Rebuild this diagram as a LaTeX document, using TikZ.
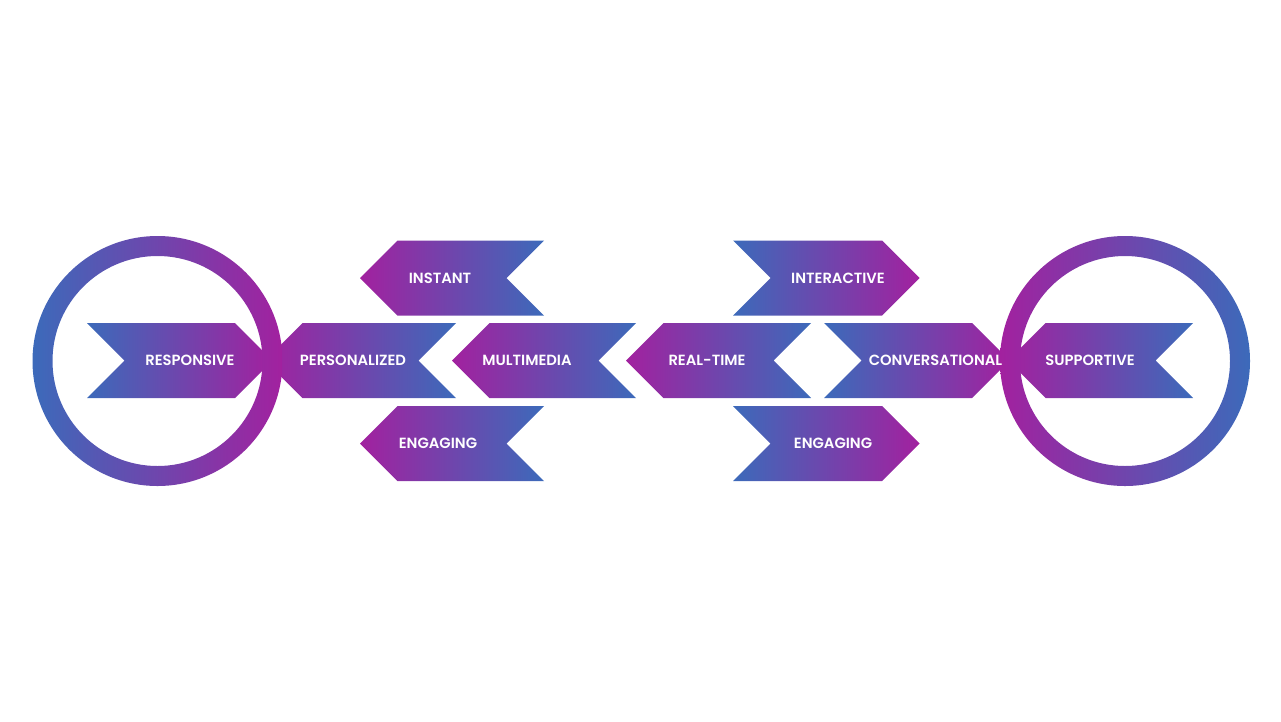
\documentclass[tikz,border=0pt]{standalone}
\usepackage{fontspec}
\setmainfont{Poppins}[BoldFont={Poppins SemiBold}]
\usetikzlibrary{calc}

\definecolor{ribbonblue}{HTML}{3C6ABA}
\definecolor{ribbonmid}{HTML}{6A3AA0}
\definecolor{ribbonpink}{HTML}{A2219F}

\begin{document}
\begin{tikzpicture}[x=0.02cm, y=-0.02cm,
    tolft/.style={left color=ribbonpink, middle color=ribbonmid, right color=ribbonblue},
    torgt/.style={left color=ribbonblue, middle color=ribbonmid, right color=ribbonpink},
    lbl/.style={text=white, inner sep=0pt, font=\fontsize{8.4}{10}\selectfont\bfseries}]
  \useasboundingbox (0,0) rectangle (1281,721);

  % ribbons pointing left: tip x, top right x, mid y
  \foreach \xl/\xr/\ym in {265/456/360.5, 452/636/360.5, 626/811/360.5,
                           1008/1193/360.5, 360/544/278, 360/544/443.5} {
    \shade[tolft] (\xl,\ym) -- (\xl+37.5,\ym-37.5) -- (\xr,\ym-37.5)
      -- (\xr-37.5,\ym) -- (\xr,\ym+37.5) -- (\xl+37.5,\ym+37.5) -- cycle;
  }

  % ribbons pointing right: top left x, top right x, mid y
  \foreach \xl/\xr/\ym in {87/235/360.5, 824/972/360.5, 733/882/278, 733/882/443.5} {
    \shade[torgt] (\xl,\ym-37.5) -- (\xr,\ym-37.5) -- (\xr+37.5,\ym)
      -- (\xr,\ym+37.5) -- (\xl,\ym+37.5) -- (\xl+37.5,\ym) -- cycle;
  }

  % the two rings
  \shade[torgt, even odd rule] (157.5,361) circle (125) (157.5,361) circle (105);
  \shade[tolft, even odd rule] (1125,361) circle (125) (1125,361) circle (105);

  % labels
  \node[lbl] (responsive) at (190,360) {RESPONSIVE};
  \node[lbl] (personal) at (353,360) {PERSONALIZED};
  \node[lbl] (instant) at (440,278) {INSTANT};
  \node[lbl] (engageL) at (438,443) {ENGAGING};
  \node[lbl] (multi) at (527,360) {MULTIMEDIA};
  \node[lbl] (realtime) at (707,360) {REAL-TIME};
  \node[lbl] (interact) at (838,278) {INTERACTIVE};
  \node[lbl] (engageR) at (833,443) {ENGAGING};
  \node[lbl] (convers) at (935.5,360) {CONVERSATIONAL};
  \node[lbl] (support) at (1090,360) {SUPPORTIVE};
\end{tikzpicture}
\end{document}
